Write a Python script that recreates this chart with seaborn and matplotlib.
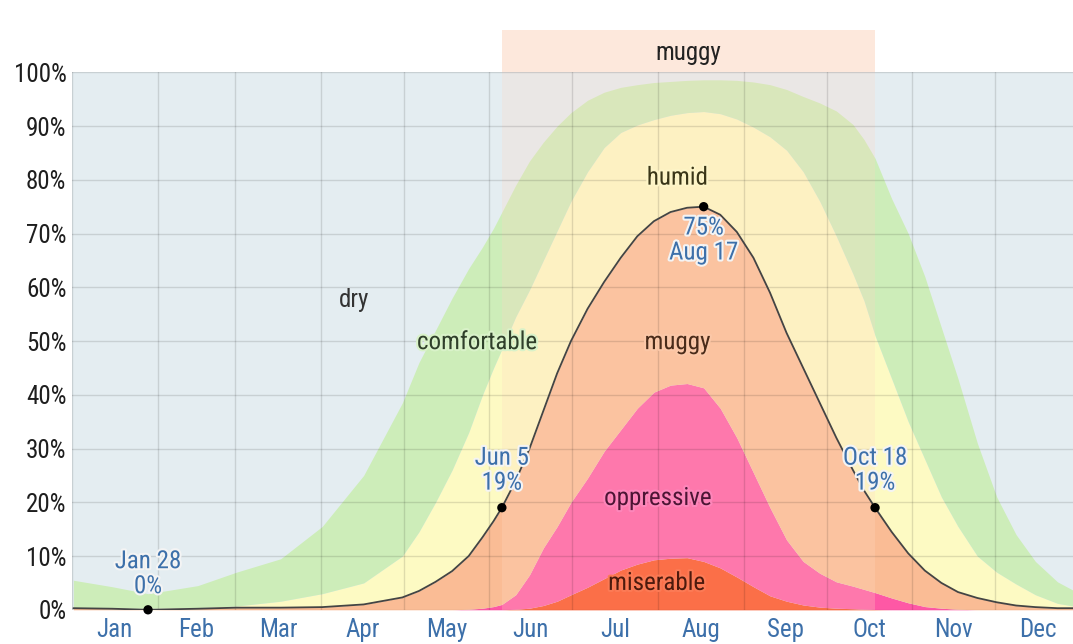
import numpy as np
import pandas as pd
import seaborn as sns
import matplotlib.pyplot as plt
import matplotlib.patheffects as pe
from matplotlib.patches import Rectangle

# day index (0 = Jan 1) and the top edge of each stacked comfort band, in %
days = [0, 14, 27, 45, 59, 75, 90, 105, 119, 125, 131, 137, 143, 148, 152, 155,
        160, 165, 170, 175, 180, 186, 192, 198, 204, 210, 216, 222, 228, 234,
        240, 246, 252, 258, 264, 270, 276, 282, 286, 290, 296, 302, 308, 314,
        320, 327, 334, 341, 348, 356, 364]
miserable_top = [0, 0, 0, 0, 0, 0, 0, 0, 0, 0, 0, 0, 0, 0, 0, 0,
                 0.1, 0.3, 0.8, 1.6, 2.8, 4.2, 5.8, 7.4, 8.5, 9.3, 9.6, 9.7, 9.0, 7.8,
                 6.1, 4.3, 2.6, 1.6, 0.9, 0.5, 0.3, 0.2, 0.1, 0.05, 0, 0, 0, 0,
                 0, 0, 0, 0, 0, 0, 0]
oppressive_top = [0, 0, 0, 0, 0, 0, 0, 0, 0, 0, 0, 0, 0.1, 0.3, 0.6, 1.0,
                  2.8, 6.5, 11.5, 15.5, 20, 24.5, 29.5, 33.5, 37.5, 40.5, 41.8, 42.1, 41.3, 37.5,
                  32, 25.5, 19, 13, 9, 6.8, 5.2, 4.4, 3.8, 3.2, 2.2, 1.3, 0.6, 0.3,
                  0.1, 0, 0, 0, 0, 0, 0]
muggy_top = [0.3, 0.2, 0.0, 0.2, 0.4, 0.4, 0.5, 1.0, 2.3, 3.5, 5.2, 7.2, 10, 13.5, 16.5, 19,
             24, 30, 37, 44, 50, 56, 61, 65.5, 69.5, 72.3, 74, 74.8, 75, 73.5,
             70.3, 65.5, 59, 51.5, 45, 38.5, 32, 26, 22.2, 19, 14.5, 10.5, 7.3, 5.0,
             3.3, 2.2, 1.4, 0.8, 0.5, 0.3, 0.3]
humid_top = [0.3, 0.3, 0.3, 0.4, 0.7, 1.6, 3, 5, 10, 14.5, 20, 26, 33, 40, 45, 48.5,
             54.5, 59.5, 65, 70.5, 76, 81.5, 86, 88.8, 90.2, 91.2, 92, 92.5, 92.7, 92.3,
             91.3, 89.8, 88, 85.5, 81.5, 76, 69.5, 62.5, 57.5, 51, 43, 35, 28, 21,
             15.5, 10, 7, 4.8, 2.8, 1.2, 0.5]
comfortable_top = [5.5, 4.3, 3.0, 4.5, 7.0, 9.5, 15.5, 25, 38.5, 46, 52, 58, 63.5, 67.5, 71, 74,
                   79, 83.5, 87, 90, 92.5, 94.8, 96.3, 97.2, 97.7, 98.1, 98.3, 98.5, 98.6, 98.6,
                   98.5, 98.2, 97.7, 96.8, 95.5, 94.3, 92.8, 90.3, 87.5, 84, 76.5, 70, 62, 52.5,
                   43, 31, 21, 14, 9, 5.2, 3]

month_names = ['Jan', 'Feb', 'Mar', 'Apr', 'May', 'Jun',
               'Jul', 'Aug', 'Sep', 'Oct', 'Nov', 'Dec']
pct_ticks = list(range(0, 101, 10))

mark_days = [27, 155, 228, 290]
mark_vals = [0, 19, 75, 19]
mark_text = ['Jan 28\n0%', 'Jun 5\n19%', '75%\nAug 17', 'Oct 18\n19%']
mark_offset = [26, 27, -24, 27]

muggy_start, muggy_end = 155, 290

c_dry = '#e4edf1'
c_com = '#cdedb9'
c_hum = '#fdfac3'
c_mug = '#fabc95'
c_opp = '#fe58a5'
c_mis = '#fa4c20'
c_blue = '#3d70aa'

sns.set_style('white')
plt.rcParams['font.family'] = ['Roboto Condensed', 'Liberation Sans', 'DejaVu Sans']
plt.rcParams['font.size'] = 18

fig = plt.figure(figsize=(10.73, 6.44), dpi=100)
ax = fig.add_axes([72 / 1073, 34.2 / 644, 1009 / 1073, 537.5 / 644])
ax.set_facecolor(c_dry)

# each value belongs to the middle of its day
xd = np.array(days) + 0.5
zero = np.zeros(len(days))
layers = [(zero, miserable_top, c_mis), (miserable_top, oppressive_top, c_opp),
          (oppressive_top, muggy_top, c_mug), (muggy_top, humid_top, c_hum),
          (humid_top, comfortable_top, c_com)]
for lo, hi, col in layers:
    ax.fill_between(xd, lo, hi, color=col, lw=0, zorder=1)

# muggy season shading
b0, b1 = muggy_start + 0.5, muggy_end + 0.5
ax.axvspan(b0, b1, color=(1.0, 0.85, 0.76), alpha=0.25, lw=0, zorder=1.5)
ax.add_patch(Rectangle((b0, 100), b1 - b0, 7.9, color='#fde8dc', lw=0, clip_on=False))
ax.text((b0 + b1) / 2, 103.6, 'muggy', ha='center', va='center',
        color='#222222', clip_on=False)

sns.lineplot(x=xd, y=muggy_top, color='#444444', lw=1.3, ax=ax, zorder=3)
sns.scatterplot(x=np.array(mark_days) + 0.5, y=mark_vals, color='black', s=45, ax=ax,
                zorder=5, edgecolor='none', clip_on=False)

for d, v, t, off in zip(mark_days, mark_vals, mark_text, mark_offset):
    ax.annotate(t, (d + 0.5, v), xytext=(0, off), textcoords='offset points',
                ha='center', va='center', color=c_blue, linespacing=1.05, zorder=6,
                path_effects=[pe.withStroke(linewidth=3, foreground='#f4f4f4')])

labels = [('dry', 102, 57.6, '#333333', None),
          ('comfortable', 146.5, 49.8, '#2f3f2a', '#d9f2c9'),
          ('humid', 219, 80.4, '#3a3618', '#fdf5c8'),
          ('muggy', 219, 49.8, '#4a2c1a', '#fbc8a8'),
          ('oppressive', 212, 20.8, '#4d1535', '#fd86ba'),
          ('miserable', 211.5, 5.0, '#4d1a0d', '#fb7a55')]
for t, x, y, col, halo in labels:
    eff = [pe.withStroke(linewidth=3, foreground=halo)] if halo else None
    ax.text(x, y, t, ha='center', va='center', color=col, zorder=6, path_effects=eff)

month_start = pd.date_range('2023-01-01', periods=12, freq='MS')
starts = (month_start.dayofyear - 1).to_numpy()
mids = starts + month_start.days_in_month.to_numpy() / 2
ax.set_xticks(starts)
ax.set_xticklabels([])
ax.set_xticks(mids, minor=True)
ax.set_xticklabels(month_names, minor=True, color=c_blue)
ax.set_yticks(pct_ticks)
ax.set_yticklabels([f'{p}%' for p in pct_ticks], color='#1e1e1e')
ax.tick_params(axis='x', which='both', length=0, pad=6)
ax.tick_params(axis='y', length=0, pad=4)

ax.set_axisbelow(False)
ax.grid(which='major', color='black', alpha=0.12, lw=1)
ax.set_xlim(0, 365)
ax.set_ylim(0, 100)
for s in ax.spines.values():
    s.set_visible(False)

fig.savefig('out.png', dpi=100)
